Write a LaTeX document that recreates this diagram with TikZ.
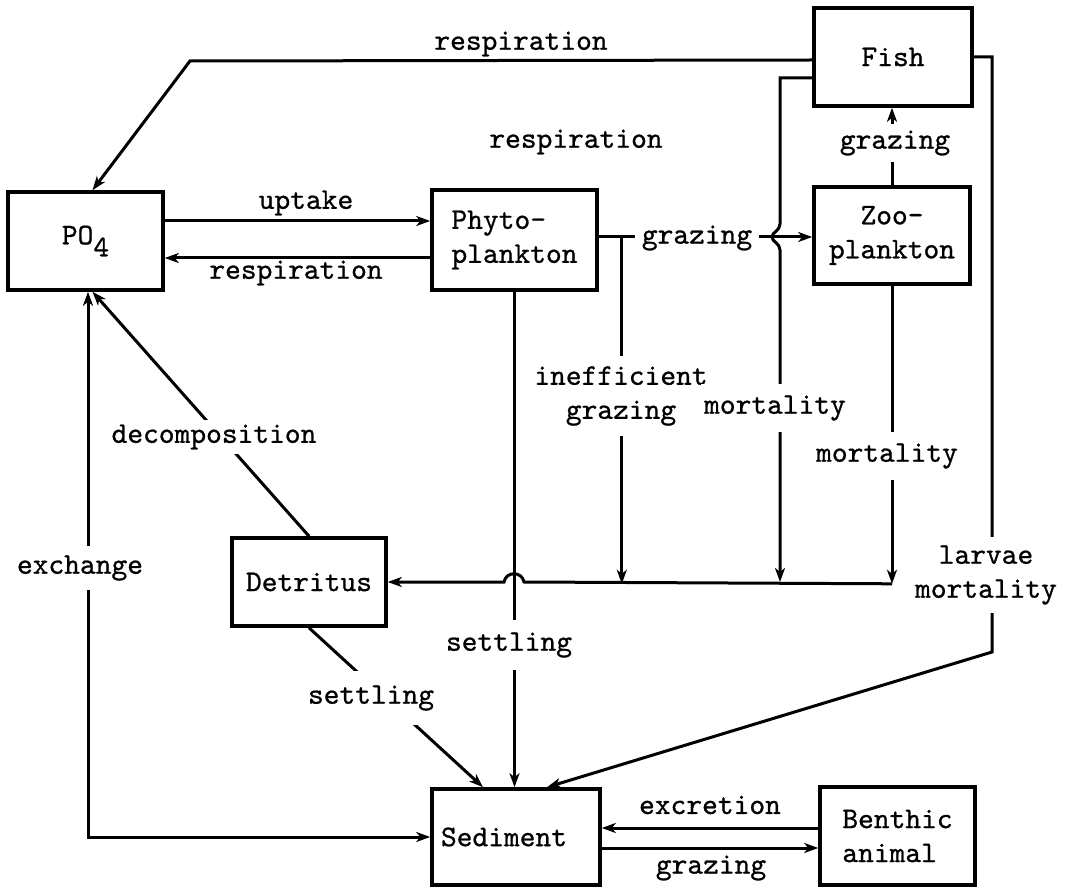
\documentclass[tikz,border=0pt]{standalone}
\usepackage{fontspec}
\newfontfamily\tw{lmmono10-regular.otf}[FakeBold=0.8]
\usetikzlibrary{arrows.meta,calc}
\begin{document}
\begin{tikzpicture}[x=1pt,y=-1pt,
  every node/.style={font=\tw\fontsize{30}{34}\selectfont},
  box/.style={draw,line width=3.6pt,inner sep=0pt,align=center},
  flow/.style={line width=3pt,-{Stealth[length=14pt,width=10pt,inset=4pt]}},
  both/.style={line width=3pt,{Stealth[length=14pt,width=10pt,inset=4pt]}-{Stealth[length=14pt,width=10pt,inset=4pt]}},
  lbl/.style={fill=white,inner sep=3pt,align=center}]
\useasboundingbox (0,0) rectangle (1082,890);

% compartments
\node[box,minimum width=155pt,minimum height=98pt] (po4) at (85.5,241) {PO\raisebox{-12pt}{4}};
\node[box,minimum width=165pt,minimum height=100pt,align=left] (phyto) at (514.5,240) {Phyto-\\plankton};
\node[box,minimum width=158pt,minimum height=98pt] (fish) at (893,57) {Fish};
\node[box,minimum width=156pt,minimum height=97pt] (zoo) at (892,235.5) {Zoo-\\plankton};
\node[box,minimum width=154pt,minimum height=88pt] (detritus) at (309,582) {Detritus};
\node[box,minimum width=168pt,minimum height=96pt] (sediment) at (516,837) {Sediment\hspace*{24pt}};
\node[box,minimum width=155pt,minimum height=98pt,align=left] (benthic) at (897.5,836) {Benthic\\animal};

% helper points
\coordinate (rbend) at (190,61);
\coordinate (gj) at ($(phyto.east)+(23,-3)$);
\coordinate (dl) at ($(zoo.south)+(0,298)$);
\coordinate (ex) at ($(po4.south)+(2.5,0)$);

% fish respiration
\draw[flow] ($(fish.west)+(0,3)$) -- (rbend) -- ($(po4.north)+(7,0)$);
\node at (521,44) {respiration};
\node at (576,142) {respiration};

% uptake / respiration between PO4 and phytoplankton
\draw[flow] ($(po4.east)+(0,-20)$) -- ($(phyto.west)+(0,-19)$);
\node at (306,203) {uptake};
\draw[flow] ($(phyto.west)+(0,18)$) -- ($(po4.east)+(0,17)$);
\node at (296,273) {respiration};

% grazing of phytoplankton by zooplankton
\draw[flow] ($(phyto.east)+(0,-3)$) -- ($(zoo.west)+(0,1.5)$);
\draw[flow] (gj) -- (gj |- dl);

% fish mortality, with a hop over the grazing line
\draw[flow] ($(fish.west)+(0,21)$) -- (780,78) -- (780,224)
  .. controls (780,231) and (772,232) .. (772,237)
  .. controls (772,242) and (780,243) .. (780,250) -- (780,582);

% zooplankton mortality and the collector into detritus
\draw[flow] (zoo.south) -- (dl);
\draw[flow] (dl) -- (524,582) .. controls (522,571) and (506,571) .. (504,582) -- (detritus.east);

% zooplankton grazed by fish
\draw[flow] (zoo.north) -- (zoo.north |- fish.south);

% larvae mortality to sediment
\draw[flow] (fish.east) -- (992,57) -- (992,652) -- ($(sediment.north)+(31,0)$);

% settling
\draw[flow] (phyto.south) -- (phyto.south |- sediment.north);
\draw[flow] (detritus.south) -- ($(sediment.north)+(-33,0)$);

% decomposition
\draw[flow] (detritus.north) -- ($(po4.south)+(7,0)$);

% exchange between sediment and PO4
\draw[both] (sediment.west) -- (sediment.west -| ex) -- (ex);

% sediment and benthic animals
\draw[flow] ($(benthic.west)+(0,-8)$) -- ($(sediment.east)+(0,-9)$);
\node at (710,805) {excretion};
\draw[flow] ($(sediment.east)+(0,11)$) -- ($(benthic.west)+(0,12)$);
\node at (711,868) {grazing};

% labels breaking the lines
\node[lbl,inner xsep=7pt] at (697,238) {grazing};
\node[lbl,inner ysep=10pt] at (621,396) {inefficient\\grazing};
\node[lbl,inner ysep=11pt] at (775,408) {mortality};
\node[lbl,inner ysep=11pt] at (887,456) {mortality};
\node[lbl,inner ysep=6pt] at (895,143) {grazing};
\node[lbl,inner ysep=8pt,inner xsep=2pt] at (986,575) {larvae\\mortality};
\node[lbl,inner ysep=12pt] at (509,645) {settling};
\node[lbl,inner ysep=14pt,inner xsep=1pt] at (371,698) {settling};
\node[lbl,inner ysep=5pt,inner xsep=1pt] at (214,437) {decomposition};
\node[lbl,inner ysep=9pt] at (80,568) {exchange};
\end{tikzpicture}
\end{document}
